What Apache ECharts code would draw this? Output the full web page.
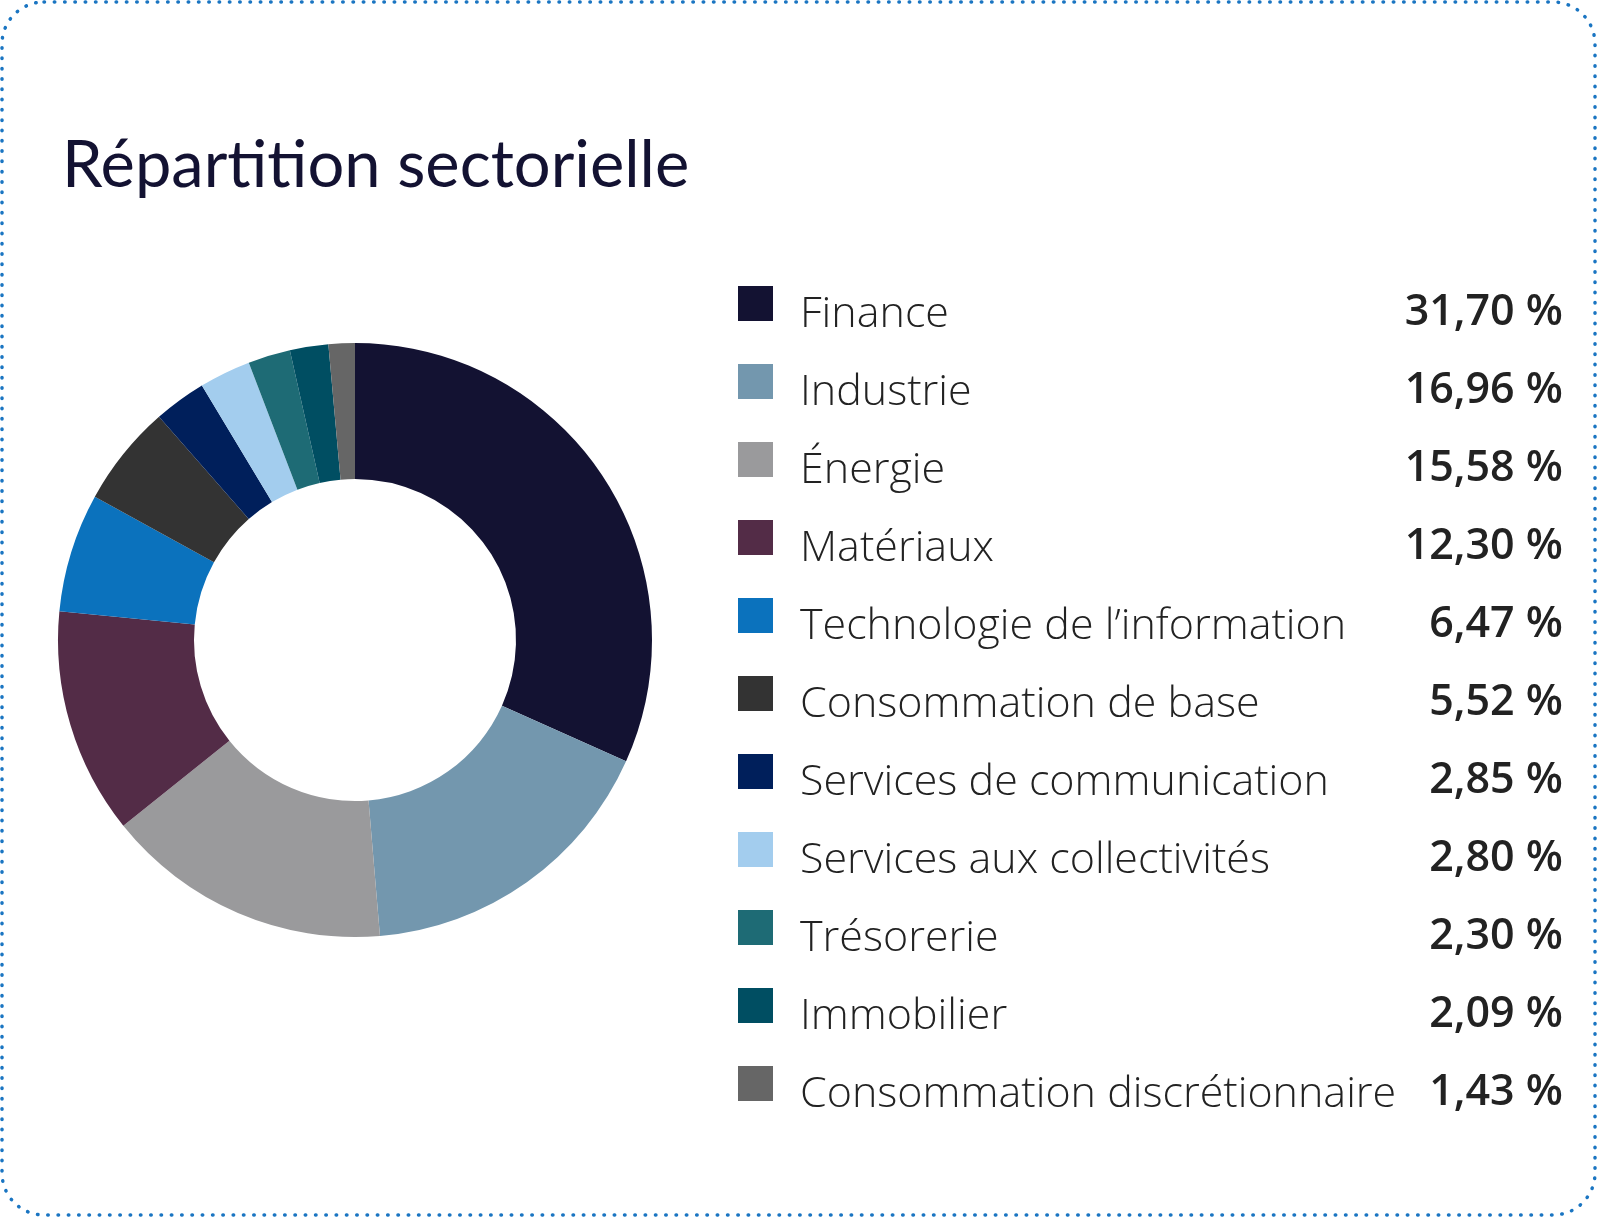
<!DOCTYPE html>
<html>
<head>
<meta charset="utf-8">
<script src="https://cdn.jsdelivr.net/npm/echarts@6/dist/echarts.min.js"></script>
<style>
  html, body { margin: 0; padding: 0; background: #fff; }
  #chart { width: 1597px; height: 1217px; }
</style>
</head>
<body>
<div id="chart"></div>
<script>
var sectors = [
    'Finance',
    'Industrie',
    'Énergie',
    'Matériaux',
    'Technologie de l’information',
    'Consommation de base',
    'Services de communication',
    'Services aux collectivités',
    'Trésorerie',
    'Immobilier',
    'Consommation discrétionnaire'
];
var weights = [31.70, 16.96, 15.58, 12.30, 6.47, 5.52, 2.85, 2.80, 2.30, 2.09, 1.43];

var palette = ['#131232', '#7397ae', '#9a9a9c', '#532c47', '#0b72bd', '#333333',
               '#001f5b', '#a3cdee', '#1e6b75', '#004e62', '#666666'];

var chart = echarts.init(document.getElementById('chart'));

function fmt(v) {
    return v.toFixed(2).replace('.', ',') + ' %';
}

var pieData = sectors.map(function (name, i) {
    return { name: name, value: weights[i] };
});

var option = {
    backgroundColor: '#fff',
    animation: false,
    color: palette,
    title: {
        text: 'Répartition sectorielle',
        left: 57,
        top: 129,
        textStyle: {
            fontFamily: 'Lato',
            fontWeight: 400,
            fontSize: 65,
            color: '#131232'
        }
    },
    legend: {
        orient: 'vertical',
        left: 733,
        top: 281,
        itemWidth: 35,
        itemHeight: 35,
        itemGap: 28,
        icon: 'rect',
        selectedMode: false,
        formatter: function (name) {
            var i = sectors.indexOf(name);
            return '{n|' + name + '}{v|' + fmt(weights[i]) + '}';
        },
        textStyle: {
            rich: {
                n: {
                    fontFamily: 'Open Sans',
                    fontWeight: 300,
                    fontSize: 43,
                    color: '#222',
                    width: 590,
                    padding: [22, 0, 0, 22]
                },
                v: {
                    fontFamily: 'Open Sans',
                    fontWeight: 600,
                    fontSize: 43,
                    color: '#222',
                    width: 173,
                    align: 'right',
                    padding: [18, 0, 0, 0]
                }
            }
        }
    },
    graphic: [{
        type: 'rect',
        silent: true,
        shape: { x: 2, y: 2, width: 1593, height: 1213, r: 42 },
        style: {
            fill: 'none',
            stroke: '#1a75c2',
            lineWidth: 3.5,
            lineDash: [0.5, 9.8],
            lineCap: 'round'
        }
    }],
    series: [{
        type: 'pie',
        center: [355, 640],
        radius: [161, 297],
        startAngle: 90,
        clockwise: true,
        avoidLabelOverlap: false,
        label: { show: false },
        labelLine: { show: false },
        emphasis: { disabled: true },
        itemStyle: { borderWidth: 0 },
        data: pieData
    }]
};

chart.setOption(option);
</script>
</body>
</html>
